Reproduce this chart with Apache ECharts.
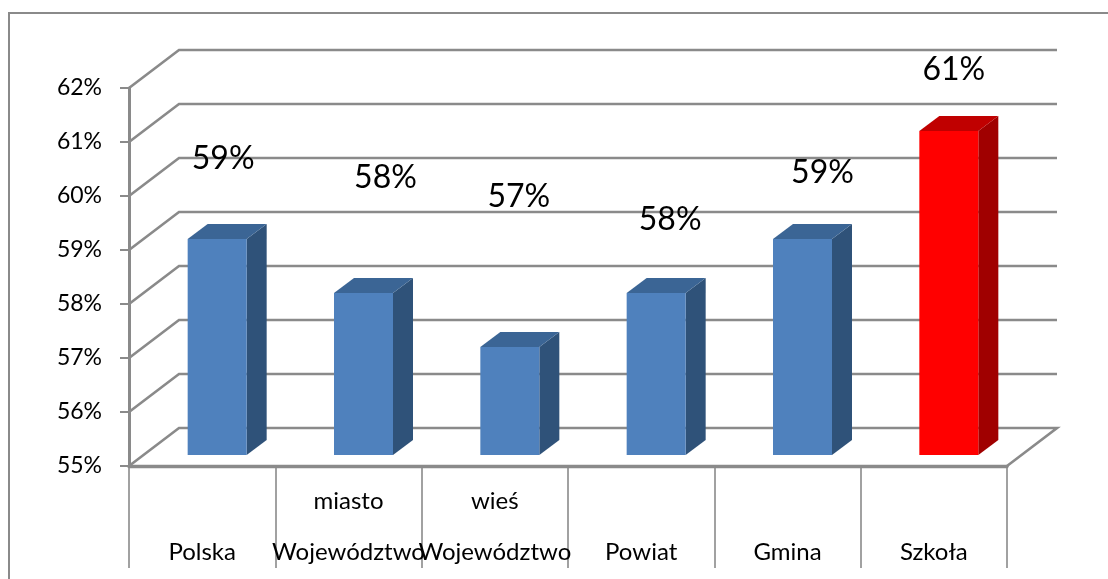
<!DOCTYPE html>
<html><head><meta charset="utf-8">
<style>html,body{margin:0;padding:0;background:#fff}#c{width:1108px;height:579px}</style>
<script src="https://cdn.jsdelivr.net/npm/echarts@6/dist/echarts.min.js"></script>
</head><body><div id="c"></div>
<script>
const categories = ['Polska','Województwo','Województwo','Powiat','Gmina','Szkoła'];
const upperLevel = ['','miasto','wieś','','',''];
const values = [59,58,57,58,59,61];
const yTicks = [55,56,57,58,59,60,61,62];
const highlighted = 'Szkoła';
const labelShiftX = [6,22,9,14,20,5];
const labelShiftY = [-80,-115,-150,-73,-66,-61];

const WALL = [50,-38], BASE = [15,-11], DEPTH = [20,-15], BAR_W = 59;
const GREY = '#8a8a8a', FONT = 'Lato, Carlito, sans-serif';
const chart = echarts.init(document.getElementById('c'), null, {renderer:'canvas'});

function renderWall(params, api){
  const v = api.value(0), cs = params.coordSys;
  const y = api.coord([0, v])[1], x0 = cs.x, x1 = cs.x + cs.width;
  return {type:'polyline', silent:true, shape:{points:[
      [x0,y],[x0+WALL[0],y+WALL[1]],[x1+WALL[0],y+WALL[1]]].concat(v===yTicks[0]?[[x1,y]]:[])},
    style:{fill:'none', stroke:GREY, lineWidth: 2.6}};
}
function renderBar(params, api){
  const i = api.value(0), v = api.value(1);
  const p = api.coord([i, v]), b = api.coord([i, yTicks[0]]);
  const red = categories[i] === highlighted;
  const L = p[0]+BASE[0]-BAR_W/2, R = L+BAR_W, T = p[1]+BASE[1], B = b[1]+BASE[1];
  const dx = DEPTH[0], dy = DEPTH[1];
  const poly = (pts, fill) => ({type:'polygon', silent:true, shape:{points:pts}, style:{fill}});
  return {type:'group', children:[
    poly([[R,T],[R+dx,T+dy],[R+dx,B+dy],[R,B]], red?'#a00000':'#2f5279'),
    poly([[L,T],[L+dx,T+dy],[R+dx,T+dy],[R,T]], red?'#c00000':'#3b6595'),
    {type:'rect', silent:true, shape:{x:L,y:T,width:BAR_W,height:B-T}, style:{fill:red?'#ff0000':'#4f81bd'}}
  ]};
}
function renderLabel(params, api){
  const i = api.value(0), v = api.value(1), p = api.coord([i, v]);
  return {type:'text', silent:true, style:{
    x:p[0]+BASE[0]+labelShiftX[i], y:p[1]+BASE[1]+labelShiftY[i],
    text:v+'%', fill:'#000', font:'32px '+FONT, textAlign:'center', textVerticalAlign:'middle'}};
}
const pairs = values.map((v,i)=>[i,v]);
chart.setOption({
  animation:false,
  backgroundColor:'#fff',
  grid:{left:129, top:88, width:878, height:378, containLabel:false, outerBoundsMode:'none'},
  xAxis:{type:'category', data:categories,
    axisLine:{show:true, onZero:false, lineStyle:{color:GREY,width:3.4}},
    axisTick:{show:true, length:102, alignWithLabel:false, interval:0, lineStyle:{color:GREY,width:1.6}},
    axisLabel:{interval:0, hideOverlap:false, margin:10, fontFamily:FONT, fontSize:24, color:'#000', lineHeight:51,
      formatter:(val,i)=>upperLevel[i]+'\n'+val},
    splitLine:{show:false}},
  yAxis:{type:'value', min:55, max:62, interval:1,
    axisLine:{show:true, lineStyle:{color:GREY,width:3}},
    axisTick:{show:true, length:9, lineStyle:{color:GREY,width:2}},
    axisLabel:{formatter:'{value}%', fontFamily:FONT, fontSize:23, color:'#000', margin:27, padding:[2,0,0,0]},
    splitLine:{show:false}},
  graphic:[{type:'polyline', silent:true, z:-1, shape:{points:[[9,579],[9,13],[1108,13]]},
    style:{fill:'none', stroke:GREY, lineWidth:2}}],
  series:[
    {type:'custom', coordinateSystem:'cartesian2d', clip:false, z:1, renderItem:renderWall,
     encode:{y:0}, data:yTicks.map(v=>[v])},
    {type:'custom', coordinateSystem:'cartesian2d', clip:false, z:2, renderItem:renderBar,
     encode:{x:0,y:1}, data:pairs},
    {type:'custom', coordinateSystem:'cartesian2d', clip:false, z:3, renderItem:renderLabel,
     encode:{x:0,y:1}, data:pairs}
  ]
});
</script></body></html>
